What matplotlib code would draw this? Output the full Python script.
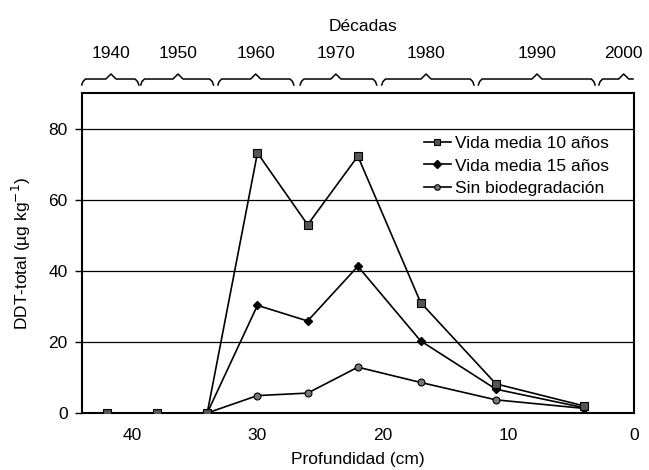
import matplotlib
matplotlib.use('Agg')
import matplotlib.pyplot as plt
import matplotlib.transforms as mtransforms

plt.rcParams['font.family'] = ['Liberation Sans', 'DejaVu Sans']

# profundidad (cm) de cada muestra
depth = [42, 38, 34, 30, 26, 22, 17, 11, 4]
vida10 = [0, 0, 0, 73.2, 53.0, 72.3, 31.1, 8.2, 2.0]
vida15 = [0, 0, 0, 30.3, 25.9, 41.3, 20.3, 6.7, 1.5]
sin_bio = [0, 0, 0, 4.9, 5.6, 12.9, 8.6, 3.7, 1.3]
labels = ['Vida media 10 años', 'Vida media 15 años', 'Sin biodegradación']

# decadas sobre el eje superior (tramos de profundidad)
decades = ['1940', '1950', '1960', '1970', '1980', '1990', '2000']
dec_start = [44.0, 39.3, 33.15, 26.6, 20.1, 12.4, 2.8]
dec_end = [39.45, 33.5, 27.1, 20.5, 12.75, 3.1, 0.08]
dec_mid = [41.67, 36.33, 30.14, 23.75, 16.57, 7.73, 0.82]

fig = plt.figure(figsize=(6.49, 4.70), dpi=100)
ax = fig.add_axes([0.1259, 0.1213, 0.8510, 0.6802])

l1, = ax.plot(depth, vida10, color='black', lw=1.2, marker='s', ms=5.5,
              mfc='#555555', mec='black', mew=0.8, zorder=5)
l2, = ax.plot(depth, vida15, color='black', lw=1.2, marker='D', ms=4.5,
              mfc='black', mec='black', zorder=4)
l3, = ax.plot(depth, sin_bio, color='black', lw=1.2, marker='o', ms=5,
              mfc='#777777', mec='black', mew=0.8, zorder=3)

ax.set_xlim(44, 0)
ax.set_ylim(0, 90)
ax.set_yticks([0, 20, 40, 60, 80])
ax.set_xticks([40, 30, 20, 10, 0])
for y in [20, 40, 60, 80]:
    ax.axhline(y, color='black', lw=0.9, zorder=1)

for s in ax.spines.values():
    s.set_linewidth(1.5)
ax.tick_params(axis='y', direction='out', length=5, width=1, labelsize=12.5, pad=5)
ax.tick_params(axis='x', length=0, labelsize=12.5, pad=11)

ax.set_xlabel('Profundidad (cm)', fontsize=12.5, labelpad=6)
ax.set_ylabel('DDT-total (µg kg$^{-1}$)', fontsize=12.5, labelpad=11)

ax.legend([l1, l2, l3], labels, loc='upper left', bbox_to_anchor=(0.619, 0.866),
          frameon=False, fontsize=12.5, borderpad=0, borderaxespad=0,
          handlelength=1.6, handletextpad=0.2, labelspacing=0.41, markerscale=0.8)

# llaves de las decadas
trans = mtransforms.blended_transform_factory(ax.transData, ax.transAxes)
y_flat, y_end, y_tip = 1.0447, 1.026, 1.0604
for name, a, b, m in zip(decades, dec_start, dec_end, dec_mid):
    xs = [a, a - 0.1, a - 0.3, m + 0.4, m, m - 0.4, b + 0.3, b + 0.1, b]
    ys = [y_end, y_flat - 0.008, y_flat, y_flat, y_tip, y_flat, y_flat, y_flat - 0.008, y_end]
    if name == '2000':
        xs = xs[:6] + [b]
        ys = ys[:6] + [y_flat]
    ax.plot(xs, ys, color='black', lw=1.1, transform=trans, clip_on=False)
    ax.text(m, 1.125, name, transform=trans, ha='center', va='center', fontsize=12.5)

ax.text(0.51, 1.21, 'Décadas', transform=ax.transAxes, ha='center', va='center',
        fontsize=12.5)

fig.savefig('out.png', dpi=100)
